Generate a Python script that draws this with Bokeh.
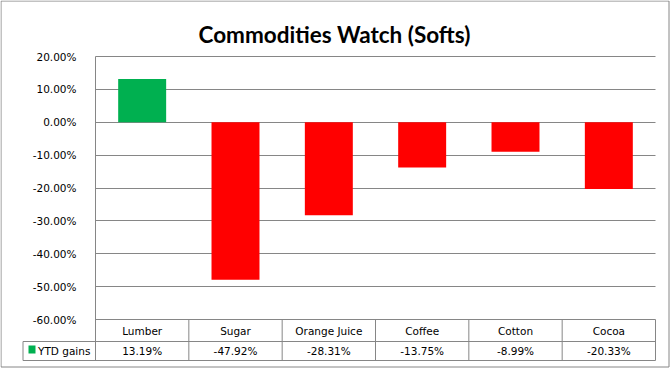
from bokeh.plotting import figure
from bokeh.models import (ColumnDataSource, NumeralTickFormatter, FixedTicker, Range1d,
                          Label, Grid)
from bokeh.embed import file_html
from bokeh.resources import INLINE
from bokeh.core.properties import value

# ---- data ----
categories = ["Lumber", "Sugar", "Orange Juice", "Coffee", "Cotton", "Cocoa"]
ytd_gains = [13.19, -47.92, -28.31, -13.75, -8.99, -20.33]   # percent
y_ticks = [20, 10, 0, -10, -20, -30, -40, -50, -60]          # percent
series_name = "YTD gains"
title_text = "Commodities Watch (Softs)"

GREEN = "#00B050"
RED = "#FF0000"
GRID = "#868686"
FONT = "DejaVu Sans"
FS = "10.5px"

# ---- geometry (pixels) ----
W, H = 670, 368
n = len(categories)
AX_X, PLOT_R = 95, 655               # plot area left/right (px)
UNIT_X = (PLOT_R - AX_X) / n         # px per category
TOP_PX, TOP_VAL = 56, max(y_ticks) / 100
BOT_PX, BOT_VAL = 319, min(y_ticks) / 100
UNIT_Y = (BOT_PX - TOP_PX) / (TOP_VAL - BOT_VAL)


def xpx(px):
    return (px - AX_X) / UNIT_X


def ypx(py):
    return TOP_VAL - (py - TOP_PX) / UNIT_Y


xs = [i + 0.5 for i in range(n)]
ys = [v / 100 for v in ytd_gains]
colors = [GREEN if v >= 0 else RED for v in ytd_gains]
src = ColumnDataSource(dict(x=xs, top=ys, color=colors, cat=categories,
                            lab=[f"{v:.2f}%" for v in ytd_gains]))

p = figure(width=W, height=H, output_backend="svg", toolbar_location=None,
           x_range=Range1d(xpx(0), xpx(W)), y_range=Range1d(ypx(H), ypx(0)),
           min_border=0, min_border_left=0, min_border_right=0,
           min_border_top=0, min_border_bottom=0, x_axis_location=None,
           title=None)
p.outline_line_color = None
p.background_fill_color = "white"
p.border_fill_color = "white"

# y axis (drawn at the left edge of the category area)
ticker = FixedTicker(ticks=[t / 100 for t in y_ticks])
yax = p.yaxis[0]
yax.fixed_location = 0
yax.bounds = (ypx(360), TOP_VAL)
yax.ticker = ticker
yax.formatter = NumeralTickFormatter(format="0.00%")
yax.axis_line_color = GRID
yax.major_tick_line_color = None
yax.minor_tick_line_color = None
yax.major_label_text_font = FONT
yax.major_label_text_font_size = FS
yax.major_label_text_color = "black"
yax.major_label_standoff = 13

p.xgrid.grid_line_color = None
if "cross_bounds" in Grid.properties():
    p.ygrid.ticker = ticker
    p.ygrid.grid_line_color = GRID
    p.ygrid.cross_bounds = (0, n)
else:
    p.ygrid.grid_line_color = None
    tv = [t / 100 for t in y_ticks]
    p.segment(x0=[0] * len(tv), x1=[n] * len(tv), y0=tv, y1=tv,
              line_color=GRID, line_width=1)

# bars
p.vbar(x="x", top="top", bottom=0, width=0.514, fill_color="color",
       line_color=None, source=src)

# title
p.add_layout(Label(x=xpx(W / 2 - 1), y=ypx(34), text=title_text,
                   text_font="Lato", text_font_size="22.5px",
                   text_font_style="bold", text_color="black",
                   text_align="center", text_baseline="alphabetic"))

# data table
r1_top, r1_bot, r2_bot = ypx(319), ypx(341), ypx(360)
left_cell = xpx(22.5)
p.segment(x0=[left_cell, left_cell], x1=[n, n], y0=[r1_bot, r2_bot],
          y1=[r1_bot, r2_bot], line_color=GRID, line_width=1)
p.segment(x0=list(range(1, n + 1)) + [left_cell],
          x1=list(range(1, n + 1)) + [left_cell],
          y0=[r1_top] * n + [r1_bot], y1=[r2_bot] * (n + 1),
          line_color=GRID, line_width=1)
p.text(x="x", y=(r1_top + r1_bot) / 2, text="cat", source=src,
       text_align="center", text_baseline="middle", text_font=value(FONT),
       text_font_size=FS, text_color="black")
p.text(x="x", y=(r1_bot + r2_bot) / 2, text="lab", source=src,
       text_align="center", text_baseline="middle", text_font=value(FONT),
       text_font_size=FS, text_color="black")

# legend key cell
p.quad(left=[xpx(28)], right=[xpx(35)], top=[ypx(345)], bottom=[ypx(353)],
       fill_color=GREEN, line_color=None)
p.add_layout(Label(x=xpx(37.5), y=(r1_bot + r2_bot) / 2, text=series_name,
                   text_font=FONT, text_font_size=FS, text_color="black",
                   text_baseline="middle", text_align="left"))

# outer border
p.quad(left=[xpx(0.5)], right=[xpx(668.5)], top=[ypx(0.5)], bottom=[ypx(366.5)],
       fill_color=None, line_color=GRID, line_width=1)

open("out.html", "w").write(file_html(p, INLINE))
